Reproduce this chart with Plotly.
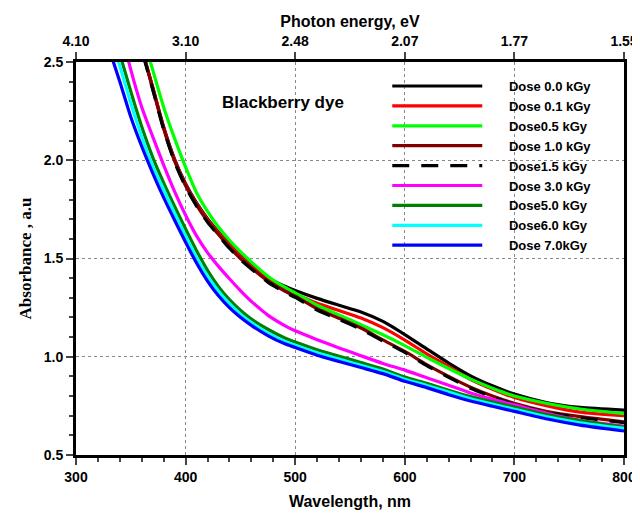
import plotly.graph_objects as go

wavelength = [330, 340, 350, 360, 370, 380, 390, 400, 410, 420, 430, 440, 450, 460, 475,
              490, 500, 520, 540, 560, 580, 600, 620, 640, 660, 680, 700, 730, 760, 800]

dose_00 = [3.30, 3.00, 2.78, 2.57, 2.37, 2.17, 2.005, 1.880, 1.783, 1.703, 1.635, 1.573, 1.515, 1.466, 1.400,
           1.360, 1.337, 1.297, 1.262, 1.228, 1.180, 1.113, 1.040, 0.968, 0.903, 0.852, 0.810, 0.766, 0.742, 0.728]
dose_01 = [3.30, 3.00, 2.78, 2.57, 2.37, 2.165, 2.000, 1.875, 1.778, 1.698, 1.630, 1.568, 1.510, 1.460, 1.395,
           1.345, 1.320, 1.272, 1.235, 1.197, 1.148, 1.085, 1.015, 0.950, 0.884, 0.835, 0.793, 0.750, 0.718, 0.700]
dose_05 = [3.40, 3.10, 2.85, 2.65, 2.46, 2.27, 2.11, 1.965, 1.835, 1.740, 1.660, 1.593, 1.535, 1.482, 1.410,
           1.355, 1.325, 1.262, 1.213, 1.163, 1.112, 1.057, 0.997, 0.940, 0.886, 0.840, 0.800, 0.762, 0.734, 0.711]
dose_10 = [3.26, 2.99, 2.77, 2.565, 2.365, 2.160, 1.995, 1.870, 1.772, 1.690, 1.622, 1.557, 1.500, 1.452, 1.386,
           1.336, 1.308, 1.244, 1.196, 1.146, 1.086, 1.027, 0.960, 0.900, 0.845, 0.800, 0.763, 0.721, 0.695, 0.669]
dose_15 = [3.25, 2.98, 2.76, 2.56, 2.36, 2.155, 1.990, 1.865, 1.767, 1.685, 1.617, 1.552, 1.495, 1.447, 1.380,
           1.330, 1.302, 1.238, 1.190, 1.140, 1.080, 1.022, 0.955, 0.895, 0.840, 0.795, 0.758, 0.716, 0.690, 0.665]
dose_30 = [2.85, 2.68, 2.46, 2.27, 2.12, 1.975, 1.840, 1.720, 1.615, 1.530, 1.460, 1.397, 1.337, 1.282, 1.212,
           1.160, 1.132, 1.087, 1.045, 1.005, 0.966, 0.932, 0.893, 0.855, 0.815, 0.783, 0.755, 0.711, 0.677, 0.647]
dose_50 = [2.72, 2.54, 2.35, 2.17, 2.015, 1.885, 1.765, 1.650, 1.540, 1.440, 1.357, 1.291, 1.237, 1.192, 1.140,
           1.097, 1.075, 1.036, 1.003, 0.970, 0.937, 0.897, 0.865, 0.830, 0.797, 0.770, 0.744, 0.705, 0.675, 0.642]
dose_60 = [2.65, 2.48, 2.29, 2.12, 1.97, 1.850, 1.730, 1.615, 1.505, 1.410, 1.333, 1.270, 1.217, 1.174, 1.120,
           1.079, 1.058, 1.020, 0.988, 0.956, 0.925, 0.886, 0.854, 0.820, 0.786, 0.759, 0.733, 0.694, 0.664, 0.635]
dose_70 = [2.57, 2.40, 2.22, 2.07, 1.935, 1.810, 1.695, 1.583, 1.477, 1.385, 1.310, 1.250, 1.201, 1.160, 1.108,
           1.067, 1.047, 1.008, 0.976, 0.945, 0.914, 0.875, 0.843, 0.807, 0.775, 0.748, 0.722, 0.683, 0.652, 0.622]

series_names = ["Dose 0.0 kGy", "Dose 0.1 kGy", "Dose0.5 kGy", "Dose 1.0 kGy", "Dose1.5 kGy",
                "Dose 3.0 kGy", "Dose5.0 kGy", "Dose6.0 kGy", "Dose 7.0kGy"]
series_values = [dose_00, dose_01, dose_05, dose_10, dose_15, dose_30, dose_50, dose_60, dose_70]
series_colors = ["#000000", "#ff0000", "#00ff00", "#800000", "#000000",
                 "#ff00ff", "#008000", "#00ffff", "#0000ff"]
series_dash = ["solid", "solid", "solid", "solid", "17px,12px", "solid", "solid", "solid", "solid"]

bottom_ticks = [300, 400, 500, 600, 700, 800]
top_tick_labels = ["4.10", "3.10", "2.48", "2.07", "1.77", "1.55"]
y_ticks = [0.5, 1.0, 1.5, 2.0, 2.5]

PAD = "\u00a0" * 6  # gap between legend line sample and its text

fig = go.Figure()
for i in range(len(series_names)):
    fig.add_trace(go.Scatter(
        x=wavelength, y=series_values[i], mode="lines", name=PAD + series_names[i],
        line=dict(color=series_colors[i], width=3.2, dash=series_dash[i], shape="spline", smoothing=0.6),
    ))

# invisible trace to anchor top axis
fig.add_trace(go.Scatter(x=wavelength, y=dose_00, xaxis="x2", mode="lines",
                         line=dict(width=0), opacity=0, showlegend=False, hoverinfo="skip"))

sans = "Liberation Sans, Arial"
bold = dict(family=sans, size=14, color="black", weight="bold")

# page body has an 8px margin, so the figure is sized to fit inside the 640x515 window
fig.update_layout(
    width=632, height=507,
    margin=dict(l=68, r=16, t=54, b=60),
    plot_bgcolor="white", paper_bgcolor="white",
    font=dict(family=sans, color="black"),
    xaxis=dict(
        range=[300, 800], tickvals=bottom_ticks, ticks="outside", ticklen=7, tickwidth=2,
        tickfont=bold, showline=True, linewidth=3, linecolor="black", automargin=False,
        showgrid=True, gridcolor="#888888", griddash="dot", gridwidth=1,
        minor=dict(dtick=20, ticks="outside", ticklen=4, tickwidth=1.5, showgrid=False),
        title=dict(text="Wavelength, nm", font=dict(family=sans, size=16, weight="bold"), standoff=13),
        zeroline=False,
    ),
    xaxis2=dict(
        range=[300, 800], overlaying="x", side="top", tickvals=bottom_ticks, ticktext=top_tick_labels,
        ticks="outside", ticklen=7, tickwidth=2, tickfont=bold, showline=True, linewidth=3,
        linecolor="black", showgrid=False, zeroline=False, automargin=False,
        title=dict(text="Photon energy, eV", font=dict(family=sans, size=16, weight="bold"), standoff=2),
    ),
    yaxis=dict(
        range=[0.5, 2.5], tickvals=y_ticks, tickformat=".1f", ticks="outside", ticklen=7, tickwidth=2,
        tickfont=bold, showline=True, linewidth=3, linecolor="black", mirror=True, automargin=False,
        showgrid=True, gridcolor="#888888", griddash="dot", gridwidth=1,
        minor=dict(dtick=0.1, ticks="outside", ticklen=4, tickwidth=1.5, showgrid=False),
        title=dict(text="Absorbance , a.u",
                   font=dict(family="Liberation Serif, Times New Roman", size=17, weight="bold"), standoff=8),
        zeroline=False,
    ),
    legend=dict(
        x=0.568, y=0.977, xanchor="left", yanchor="top", bgcolor="rgba(255,255,255,0)",
        font=dict(family=sans, size=13, color="black", weight="bold"),
        itemwidth=90, tracegroupgap=0,
    ),
    showlegend=True,
    annotations=[dict(
        text="Blackberry dye", x=0.263, y=0.896, xref="paper", yref="paper",
        xanchor="left", yanchor="middle", showarrow=False,
        font=dict(family=sans, size=17, color="black", weight="bold"),
    )],
)

fig.write_html("out.html")
